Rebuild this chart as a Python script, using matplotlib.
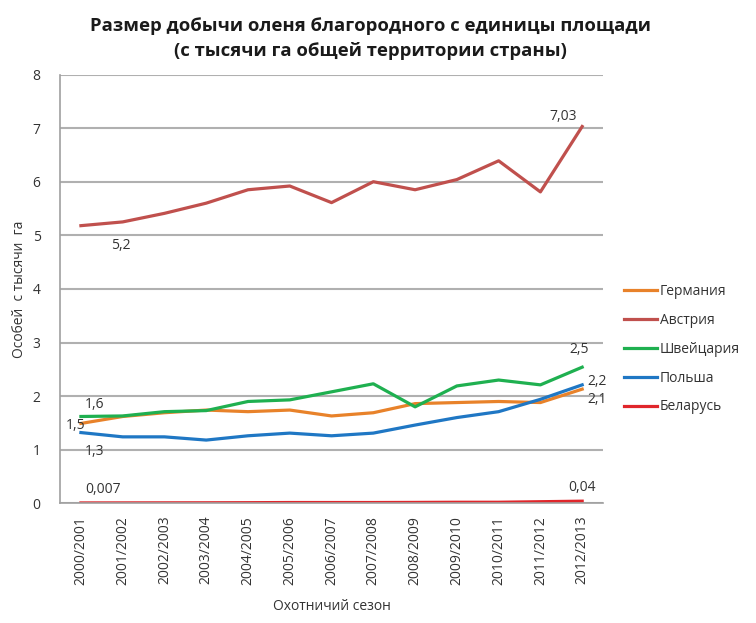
import numpy as np
import matplotlib.pyplot as plt

plt.rcParams['font.family'] = ['Open Sans', 'DejaVu Sans']

seasons = ['2000/2001', '2001/2002', '2002/2003', '2003/2004', '2004/2005',
           '2005/2006', '2006/2007', '2007/2008', '2008/2009', '2009/2010',
           '2010/2011', '2011/2012', '2012/2013']

germany = [1.49, 1.62, 1.69, 1.74, 1.71, 1.74, 1.63, 1.69, 1.86, 1.88, 1.90, 1.88, 2.13]
austria = [5.18, 5.25, 5.41, 5.60, 5.85, 5.92, 5.61, 6.00, 5.85, 6.04, 6.39, 5.81, 7.03]
switzerland = [1.62, 1.63, 1.71, 1.73, 1.90, 1.93, 2.08, 2.23, 1.80, 2.19, 2.30, 2.21, 2.54]
poland = [1.32, 1.24, 1.24, 1.18, 1.26, 1.31, 1.26, 1.31, 1.46, 1.60, 1.71, 1.94, 2.21]
belarus = [0.007, 0.008, 0.009, 0.01, 0.012, 0.015, 0.015, 0.015, 0.017, 0.02, 0.02, 0.03, 0.04]

series = [('Германия', germany, '#e8822a'),
          ('Австрия', austria, '#c0504d'),
          ('Швейцария', switzerland, '#1fb050'),
          ('Польша', poland, '#1f77c4'),
          ('Беларусь', belarus, '#e0262b')]

fig = plt.figure(figsize=(7.56, 6.23), dpi=100)
ax = fig.add_axes([0.0794, 0.1921, 0.7183, 0.6883])

x = np.arange(len(seasons))
for name, vals, col in series:
    ax.plot(x, vals, color=col, linewidth=2.3, label=name)

ax.set_xlim(-0.5, len(seasons) - 0.5)
ax.set_ylim(0, 8)
ax.set_yticks(range(0, 9))
ax.set_xticks(x)
ax.set_xticklabels(seasons, rotation=90, fontsize=10, color='#333333')
ax.tick_params(axis='y', labelsize=10, colors='#333333', length=0, pad=14)
ax.tick_params(axis='x', length=0, pad=9)
ax.yaxis.grid(True, color='#b0b0b0', linewidth=1.5)
ax.set_axisbelow(True)
for s in ['top', 'right']:
    ax.spines[s].set_visible(False)
for s in ['left', 'bottom']:
    ax.spines[s].set_color('#a0a0a0')
    ax.spines[s].set_linewidth(1.2)

# data labels
lab_kw = dict(fontsize=10, color='#333333')
ax.annotate('5,2', (0, austria[0]), xytext=(22, -17), textcoords='offset points', ha='left', **lab_kw)
ax.annotate('7,03', (12, austria[-1]), xytext=(-14, 5), textcoords='offset points', ha='center', **lab_kw)
ax.annotate('1,6', (0, switzerland[0]), xytext=(3, 6), textcoords='offset points', ha='left', **lab_kw)
ax.annotate('1,5', (0, germany[0]), xytext=(-11, -4), textcoords='offset points', ha='left', **lab_kw)
ax.annotate('1,3', (0, poland[0]), xytext=(3, -16), textcoords='offset points', ha='left', **lab_kw)
ax.annotate('0,007', (0, belarus[0]), xytext=(3, 7), textcoords='offset points', ha='left', **lab_kw)
ax.annotate('2,5', (12, switzerland[-1]), xytext=(-2, 10), textcoords='offset points', ha='center', **lab_kw)
ax.annotate('2,2', (12, poland[-1]), xytext=(4, 0), textcoords='offset points', ha='left', **lab_kw)
ax.annotate('2,1', (12, germany[-1]), xytext=(4, -10), textcoords='offset points', ha='left', **lab_kw)
ax.annotate('0,04', (12, belarus[-1]), xytext=(0, 7), textcoords='offset points', ha='center', **lab_kw)

ax.set_xlabel('Охотничий сезон', fontsize=10, color='#333333', labelpad=10)
ax.set_ylabel('Особей  с тысячи  га', fontsize=10, color='#333333', labelpad=4)

fig.suptitle('Размер добычи оленя благородного с единицы площади\n(с тысячи га общей территории страны)',
             x=0.49, y=0.972, fontsize=13.3, fontweight='bold', color='#1a1a1a', linespacing=1.5)

ax.legend(loc='upper left', bbox_to_anchor=(1.015, 0.541), frameon=False, fontsize=10,
          handlelength=2.4, handletextpad=0.2, labelspacing=1.0, labelcolor='#333333')

fig.savefig('out.png', dpi=100)
